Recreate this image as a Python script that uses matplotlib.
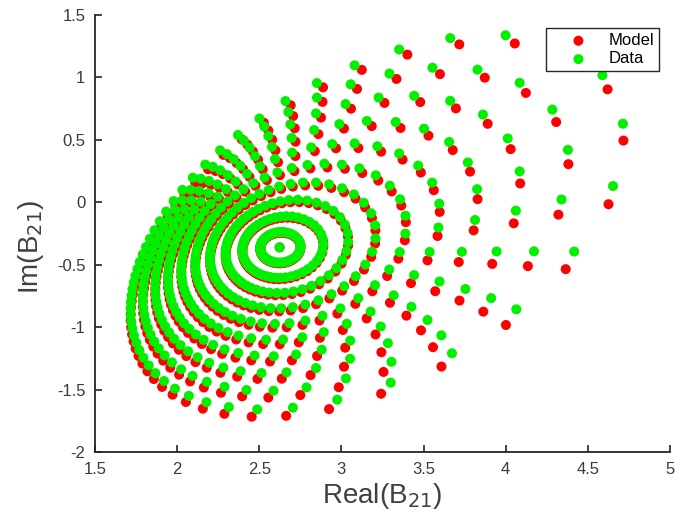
import numpy as np
import matplotlib
matplotlib.use("Agg")
import matplotlib.pyplot as plt

plt.rcParams['font.family'] = ['Liberation Sans', 'DejaVu Sans']
plt.rcParams['axes.unicode_minus'] = False

# ---- data ----
center_x = 2.624          # centre point (r = 0)
center_y = -0.361
ring_radii = [0.09, 0.18, 0.27, 0.36, 0.45, 0.54, 0.63, 0.72, 0.81, 0.90]
n_angles = 52
phase0 = 0.05
angle_warp = 0.28
# data (green) mapping: spread a = |a| e^{i psi}, scale P, ellipticity q (outer ring)
data_a_mag, data_a_ang = 0.444, 0.10
data_scale = 1.693
data_ellip = 0.42
# model (red) mapping
model_a_mag, model_a_ang = 0.444, 0.10
model_scale = 1.693
model_ellip = 0.42
model_phase = -0.025
model_drop = -0.06

x_ticks = [1.5, 2, 2.5, 3, 3.5, 4, 4.5, 5]
y_ticks = [-2, -1.5, -1, -0.5, 0, 0.5, 1, 1.5]


def rings(a_mag, a_ang, scale, ellip, phase, drop):
    a = a_mag * np.exp(1j * a_ang)
    xs, ys = [center_x], [center_y]
    t = 2 * np.pi * np.arange(n_angles) / n_angles + phase0
    th = t + angle_warp * np.sin(t - a_ang) + phase
    for r in ring_radii:
        z = r * np.exp(1j * th)
        u = (z - a) / (1 - np.conj(a) * z) + a
        w = scale * u + 1j * ellip * (r / ring_radii[-1]) * np.conj(u)
        xs.extend(center_x + w.real)
        ys.extend(center_y + w.imag + drop * r / ring_radii[-1])
    return np.array(xs), np.array(ys)


mx, my = rings(model_a_mag, model_a_ang, model_scale, model_ellip, model_phase, model_drop)
dx, dy = rings(data_a_mag, data_a_ang, data_scale, data_ellip, 0.0, 0.0)

fig = plt.figure(figsize=(6.76, 5.29), dpi=100)
ax = fig.add_axes([0.1405, 0.1456, 0.8505, 0.826])
ax.scatter(mx, my, s=52, c='#ff0000', edgecolors='none', label='Model', zorder=2)
ax.scatter(dx, dy, s=52, c='#00f000', edgecolors='none', label='Data', zorder=3)

ax.set_xlim(1.5, 5)
ax.set_ylim(-2, 1.5)
ax.set_xticks(x_ticks)
ax.set_xticklabels([f"{v:g}" for v in x_ticks])
ax.set_yticks(y_ticks)
ax.set_yticklabels([f"{v:g}" for v in y_ticks])
for s in ['top', 'right']:
    ax.spines[s].set_visible(False)
for s in ['left', 'bottom']:
    ax.spines[s].set_color('#262626')
    ax.spines[s].set_linewidth(1.3)
ax.tick_params(direction='in', length=5, width=1.2, labelsize=12,
               colors='#262626', labelcolor='#3a3a3a', pad=7)
ax.set_xlabel('Real(B$_{21}$)', fontsize=20, color='#404040', labelpad=3)
ax.set_ylabel('Im(B$_{21}$)', fontsize=20, color='#404040')
ax.yaxis.set_label_coords(-0.085, 0.47)

leg = ax.legend(loc='upper right', bbox_to_anchor=(0.981, 0.970), borderaxespad=0,
                fontsize=12, frameon=True, fancybox=False, edgecolor='#262626',
                framealpha=1.0, handlelength=3.35, handletextpad=0.12,
                borderpad=0.3, labelspacing=0.2, markerscale=1.0)
leg.get_frame().set_linewidth(1.0)
leg.set_zorder(10)

fig.savefig('out.png', dpi=100)
